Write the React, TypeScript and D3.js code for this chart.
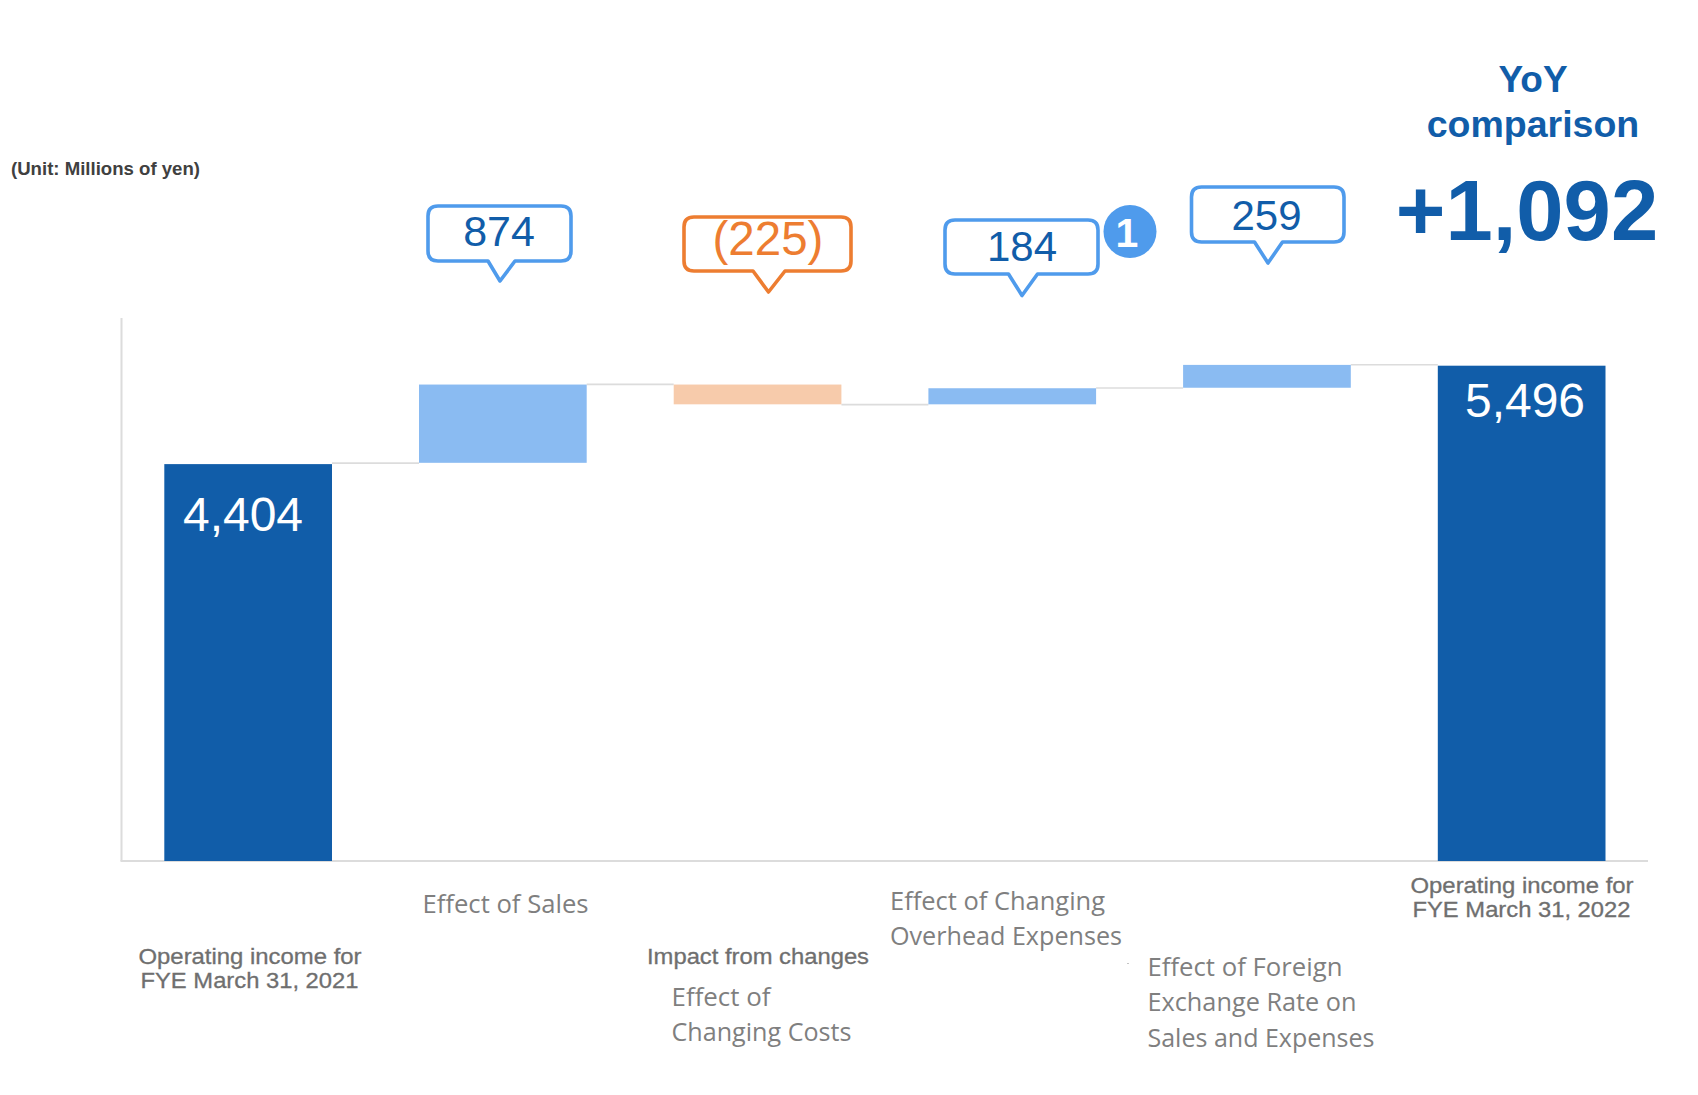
import React from 'react';
import * as d3 from 'd3';

const categories = ['fy2021', 'sales', 'costs', 'overhead', 'forex', 'fy2022'];
const deltas = [4404, 874, -225, 184, 259, 5496];
const totals = [true, false, false, false, false, true];
const calloutLabels = ['874', '(225)', '184', '259'];
const barLabels = ['4,404', '5,496'];
const titleLines = ['YoY', 'comparison'];
const yoyLabel = '+1,092';
const unitLabel = '(Unit: Millions of yen)';

const width = 1698;
const height = 1095;
const DARK = '#115da9';
const LIGHT = '#8abbf2';
const PEACH = '#f7cbab';
const BLUE_LINE = '#4f9bec';
const ORANGE = '#ed7d31';
const GREY = '#7f7f7f';
const RULE = '#dcdcdc';
const ARIAL = '"Liberation Sans", Arial, sans-serif';
const SOFT = '"Open Sans", "Noto Sans", sans-serif';

const x = d3.scaleBand<string>()
  .domain(categories)
  .range([120.8, 1649])
  .paddingInner(0.3416)
  .paddingOuter(0.1708);

const y = d3.scaleLinear().domain([0, 5496]).range([861, 365.7]);

// walk the waterfall: each floating bar starts where the last one ended
let running = 0;
const bars = categories.map((c, i) => {
  const from = totals[i] ? 0 : running;
  const to = totals[i] ? deltas[i] : running + deltas[i];
  running = to;
  return { c, i, from, to, level: to };
});

function calloutPath(l: number, t: number, r: number, b: number, tipX: number, tipY: number, n0: number, n1: number) {
  const rad = 10;
  const p = d3.path();
  p.moveTo(l + rad, t);
  p.lineTo(r - rad, t);
  p.quadraticCurveTo(r, t, r, t + rad);
  p.lineTo(r, b - rad);
  p.quadraticCurveTo(r, b, r - rad, b);
  p.lineTo(n1, b);
  p.lineTo(tipX, tipY);
  p.lineTo(n0, b);
  p.lineTo(l + rad, b);
  p.quadraticCurveTo(l, b, l, b - rad);
  p.lineTo(l, t + rad);
  p.quadraticCurveTo(l, t, l + rad, t);
  p.closePath();
  return p.toString();
}

const callouts = [
  { box: [428, 206, 571, 261], tip: [500, 281], notch: [488, 515], tx: 499, ty: 245.5, fs: 43, stroke: BLUE_LINE, fill: DARK },
  { box: [684, 217, 851, 271], tip: [768.5, 292], notch: [753, 785], tx: 768, ty: 254.5, fs: 47.5, stroke: ORANGE, fill: ORANGE },
  { box: [945, 220, 1098, 274], tip: [1022, 295.5], notch: [1008.5, 1037.5], tx: 1022, ty: 260.5, fs: 42, stroke: BLUE_LINE, fill: DARK },
  { box: [1191.5, 187, 1344, 242], tip: [1268, 263], notch: [1254.5, 1282.5], tx: 1266.5, ty: 230, fs: 42, stroke: BLUE_LINE, fill: DARK },
];

const greyLabels = [
  { text: 'Operating income for', x: 250, y: 964, w: 223, anchor: 'middle' },
  { text: 'FYE March 31, 2021', x: 249.5, y: 988, w: 218, anchor: 'middle' },
  { text: 'Impact from changes', x: 758, y: 964, w: 222, anchor: 'middle' },
  { text: 'Operating income for', x: 1522, y: 893, w: 223, anchor: 'middle' },
  { text: 'FYE March 31, 2022', x: 1521.5, y: 917, w: 218, anchor: 'middle' },
];

const softLabels = [
  { text: 'Effect of Sales', x: 422.5, y: 913, w: 166 },
  { text: 'Effect of', x: 671.5, y: 1006, w: 99 },
  { text: 'Changing Costs', x: 671.5, y: 1041, w: 180 },
  { text: 'Effect of Changing', x: 890, y: 910, w: 215 },
  { text: 'Overhead Expenses', x: 890, y: 945, w: 232 },
  { text: 'Effect of Foreign', x: 1147.5, y: 976, w: 195 },
  { text: 'Exchange Rate on', x: 1147.5, y: 1011, w: 209 },
  { text: 'Sales and Expenses', x: 1147.5, y: 1047, w: 227 },
];

export default function App() {
  const bw = x.bandwidth();
  return (
    <svg width={width} height={height} viewBox={`0 0 ${width} ${height}`}
      style={{ position: 'absolute', left: 0, top: 0, display: 'block', background: '#fff' }}>
      {/* axis lines */}
      <line x1={121.5} x2={121.5} y1={318} y2={861} stroke={RULE} strokeWidth={2} />
      <line x1={120.5} x2={1648} y1={861} y2={861} stroke={RULE} strokeWidth={2} />

      {/* connectors */}
      {bars.slice(0, -1).map(b => (
        <line key={b.c} x1={x(b.c)! + bw} x2={x(categories[b.i + 1])!}
          y1={y(b.level) - 1} y2={y(b.level) - 1} stroke={RULE} strokeWidth={1.6} />
      ))}

      {/* bars */}
      {bars.map(b => {
        const hi = Math.max(b.from, b.to);
        const lo = Math.min(b.from, b.to);
        const top = totals[b.i] ? y(hi) : y(hi) - 0.8;
        const bottom = totals[b.i] ? y(lo) : y(lo) - 1.3;
        return (
          <rect key={b.c} x={x(b.c)} width={bw} y={top} height={bottom - top}
            fill={totals[b.i] ? DARK : deltas[b.i] < 0 ? PEACH : LIGHT} />
        );
      })}

      <text x={243} y={531} fontFamily={ARIAL} fontSize={48} fill="#fff" textAnchor="middle">{barLabels[0]}</text>
      <text x={1525} y={417} fontFamily={ARIAL} fontSize={48} fill="#fff" textAnchor="middle">{barLabels[1]}</text>

      {/* callouts */}
      {callouts.map((c, i) => (
        <g key={i}>
          <path d={calloutPath(c.box[0], c.box[1], c.box[2], c.box[3], c.tip[0], c.tip[1], c.notch[0], c.notch[1])}
            fill="#fff" stroke={c.stroke} strokeWidth={3.6} strokeLinejoin="round" />
          <text x={c.tx} y={c.ty} fontFamily={ARIAL} fontSize={c.fs} fill={c.fill} textAnchor="middle">{calloutLabels[i]}</text>
        </g>
      ))}

      <circle cx={1130} cy={231.5} r={26.5} fill={BLUE_LINE} />
      <text x={1127} y={247} fontFamily={ARIAL} fontSize={41} fontWeight="bold" fill="#fff" textAnchor="middle">1</text>

      {/* YoY block */}
      <text x={1533} y={92} fontFamily={ARIAL} fontSize={37} fontWeight="bold" fill={DARK} textAnchor="middle">{titleLines[0]}</text>
      <text x={1533} y={137} fontFamily={ARIAL} fontSize={37.5} fontWeight="bold" fill={DARK} textAnchor="middle">{titleLines[1]}</text>
      <text x={1527} y={240} fontFamily={ARIAL} fontSize={85} fontWeight="bold" fill={DARK} textAnchor="middle">{yoyLabel}</text>

      <text x={11} y={175} fontFamily={ARIAL} fontSize={18.6} fontWeight="bold" fill="#404040">{unitLabel}</text>

      {/* category labels */}
      {greyLabels.map((l, i) => (
        <text key={i} x={l.x} y={l.y} fontFamily={ARIAL} fontSize={22} fill="#6f6f6f" stroke="#6f6f6f" strokeWidth={0.3}
          textAnchor="middle" textLength={l.w} lengthAdjust="spacingAndGlyphs">{l.text}</text>
      ))}
      {softLabels.map((l, i) => (
        <text key={i} x={l.x} y={l.y} fontFamily={SOFT} fontSize={25} fill={GREY}
          textLength={l.w} lengthAdjust="spacingAndGlyphs">{l.text}</text>
      ))}
      <rect x={1127.5} y={963} width={1} height={1} fill="#888" />
    </svg>
  );
}
